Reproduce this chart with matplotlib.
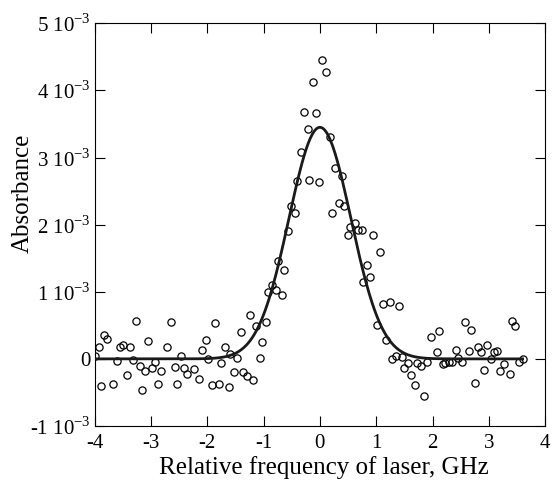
import numpy as np
import matplotlib
matplotlib.use("Agg")
import matplotlib.pyplot as plt

plt.rcParams['font.family'] = ['Liberation Serif', 'DejaVu Serif']
plt.rcParams['mathtext.fontset'] = 'custom'
plt.rcParams['mathtext.rm'] = 'Liberation Serif'

# measured points: frequency (GHz), absorbance (x1e-3)
freq = [-4.00, -3.93, -3.89, -3.83, -3.78, -3.67, -3.60, -3.55, -3.49, -3.42,
        -3.37, -3.32, -3.27, -3.20, -3.16, -3.10, -3.05, -2.98, -2.93, -2.87,
        -2.82, -2.71, -2.65, -2.58, -2.53, -2.47, -2.42, -2.36, -2.24, -2.14,
        -2.09, -2.02, -1.98, -1.91, -1.87, -1.80, -1.76, -1.69, -1.62, -1.59,
        -1.52, -1.47, -1.40, -1.36, -1.30, -1.25, -1.19, -1.14, -1.07, -1.03,
        -0.96, -0.92, -0.86, -0.78, -0.74, -0.67, -0.63, -0.56, -0.52, -0.44,
        -0.41, -0.34, -0.29, -0.22, -0.19, -0.12, -0.07, -0.01, 0.04, 0.11,
        0.17, 0.22, 0.27, 0.33, 0.39, 0.43, 0.50, 0.54, 0.62, 0.67,
        0.74, 0.77, 0.84, 0.89, 0.95, 1.01, 1.06, 1.12, 1.17, 1.24,
        1.28, 1.35, 1.40, 1.46, 1.50, 1.57, 1.62, 1.68, 1.73, 1.79,
        1.84, 1.91, 1.97, 2.08, 2.12, 2.18, 2.23, 2.30, 2.35, 2.41,
        2.46, 2.53, 2.57, 2.64, 2.69, 2.75, 2.81, 2.86, 2.92, 2.97,
        3.03, 3.09, 3.14, 3.20, 3.27, 3.37, 3.41, 3.47, 3.53, 3.60]
absorb = [0.04, 0.17, -0.41, 0.36, 0.29, -0.37, -0.03, 0.17, 0.20, -0.24,
          0.18, -0.01, 0.56, -0.11, -0.46, -0.18, 0.26, -0.13, -0.05, -0.37,
          -0.18, 0.17, 0.55, -0.12, -0.37, 0.04, -0.13, -0.22, -0.15, -0.30,
          0.13, 0.28, 0.00, -0.39, 0.53, -0.37, -0.06, 0.18, -0.42, 0.08,
          -0.20, 0.01, 0.40, -0.20, -0.25, 0.65, -0.31, 0.49, 0.02, 0.25,
          0.55, 0.99, 1.10, 1.03, 1.46, 0.95, 1.33, 1.91, 2.28, 2.17,
          2.65, 3.08, 3.68, 3.42, 2.67, 4.12, 3.66, 2.63, 4.46, 4.27,
          3.30, 2.17, 2.84, 2.32, 2.73, 2.28, 1.85, 1.96, 2.02, 1.92,
          1.92, 1.14, 1.40, 1.22, 1.85, 0.51, 1.59, 0.82, 0.28, 0.84,
          0.00, 0.04, 0.79, 0.03, -0.14, -0.06, -0.24, -0.39, -0.06, -0.11,
          -0.55, -0.05, 0.32, 0.10, 0.42, -0.08, -0.06, -0.04, -0.04, 0.13,
          0.01, -0.04, 0.55, 0.12, 0.43, -0.36, 0.17, 0.10, -0.16, 0.21,
          0.00, 0.10, 0.11, -0.18, -0.07, -0.22, 0.56, 0.49, -0.05, 0.00]

# Gaussian fit parameters
fit_amp = 3.45      # x1e-3
fit_center = 0.0    # GHz
fit_sigma = 0.55    # GHz
fit_range = (-4.0, 3.6)

yticks = [-1, 0, 1, 2, 3, 4, 5]
ytick_labels = ['-1 10$^{-3}$', '0', '1 10$^{-3}$', '2 10$^{-3}$',
                '3 10$^{-3}$', '4 10$^{-3}$', '5 10$^{-3}$']
xticks = [-4, -3, -2, -1, 0, 1, 2, 3, 4]

fig = plt.figure(figsize=(5.54, 4.8), dpi=100)
ax = fig.add_axes([0.171, 0.1125, 0.813, 0.839])

xf = np.linspace(fit_range[0], fit_range[1], 400)
yf = fit_amp * np.exp(-(xf - fit_center) ** 2 / (2 * fit_sigma ** 2))
ax.plot(xf, yf, color='#1a1a1a', lw=2.0, zorder=3)

ax.plot(freq, absorb, linestyle='none', marker='o', markersize=5.2,
        markerfacecolor='none', markeredgecolor='black', markeredgewidth=0.9,
        zorder=2)

ax.set_xlim(-4, 4)
ax.set_ylim(-1, 5)
ax.set_xticks(xticks)
ax.set_xticklabels([str(t) for t in xticks])
ax.set_yticks(yticks)
ax.set_yticklabels(ytick_labels)
ax.tick_params(direction='in', length=7, width=0.8, top=True, right=True,
               labelsize=15)
ax.tick_params(axis='x', pad=6)
ax.tick_params(axis='y', pad=3)
for s in ax.spines.values():
    s.set_linewidth(0.8)
ax.set_xlabel('Relative frequency of laser, GHz', fontsize=18)
ax.xaxis.set_label_coords(0.509, -0.075)
ax.set_ylabel('Absorbance', fontsize=18)
ax.yaxis.set_label_coords(-0.135, 0.578)

fig.savefig('out.png', dpi=100)
